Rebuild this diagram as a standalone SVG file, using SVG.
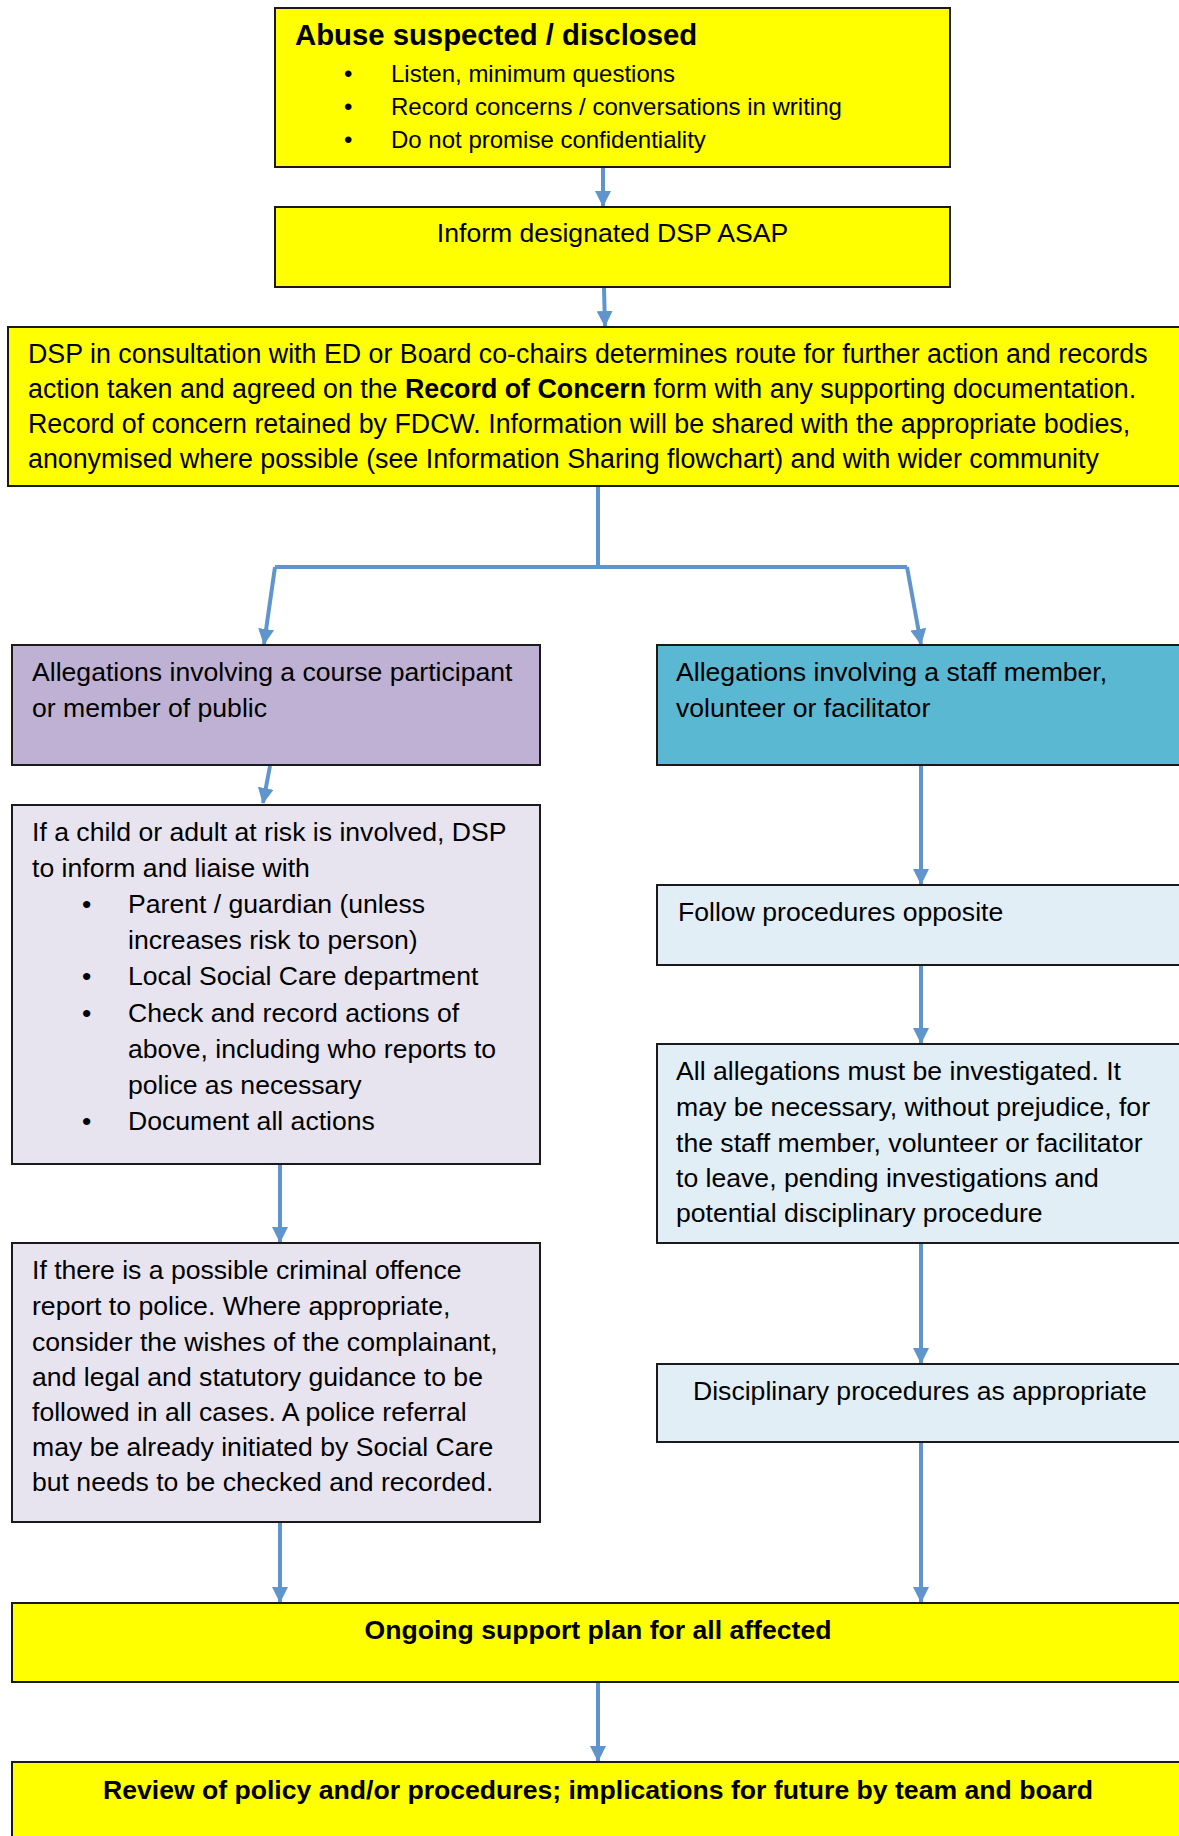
<svg xmlns="http://www.w3.org/2000/svg" width="1179" height="1836" viewBox="0 0 1179 1836">
<style>
  .box { stroke: #1a1a1a; stroke-width: 2; }
  .yellow { fill: #FFFF00; }
  .purple { fill: #BFB1D3; }
  .teal { fill: #5BB8D2; }
  .lpurple { fill: #E8E4EF; }
  .lblue { fill: #E1EEF6; }
  text { font-family: "Liberation Sans", Arial, sans-serif; fill: #000; }
  .t { font-size: 26.6px; }
  .w { font-size: 26.8px; }
  .s { font-size: 24px; }
  .b { font-weight: bold; }
  .conn { stroke: #5F95CC; stroke-width: 4; fill: none; }
</style>
<defs>
  <marker id="ah" markerUnits="userSpaceOnUse" viewBox="0 0 16 16" refX="15" refY="8" markerWidth="16" markerHeight="16" orient="auto">
    <path d="M0,0 L16,8 L0,16 Z" fill="#5F95CC"/>
  </marker>
</defs>

<g id="connectors">
  <line class="conn" x1="603" y1="168" x2="603" y2="206" marker-end="url(#ah)"/>
  <line class="conn" x1="604" y1="288" x2="605" y2="326" marker-end="url(#ah)"/>
  <polyline class="conn" points="598,487 598,567"/>
  <polyline class="conn" points="275,567 907,567"/>
  <line class="conn" x1="275" y1="567" x2="264" y2="644" marker-end="url(#ah)"/>
  <line class="conn" x1="907" y1="567" x2="921" y2="644" marker-end="url(#ah)"/>
  <line class="conn" x1="270" y1="766" x2="263" y2="803" marker-end="url(#ah)"/>
  <line class="conn" x1="921" y1="766" x2="921" y2="884" marker-end="url(#ah)"/>
  <line class="conn" x1="921" y1="966" x2="921" y2="1043" marker-end="url(#ah)"/>
  <line class="conn" x1="921" y1="1244" x2="921" y2="1363" marker-end="url(#ah)"/>
  <line class="conn" x1="921" y1="1443" x2="921" y2="1602" marker-end="url(#ah)"/>
  <line class="conn" x1="280" y1="1165" x2="280" y2="1242" marker-end="url(#ah)"/>
  <line class="conn" x1="280" y1="1523" x2="280" y2="1602" marker-end="url(#ah)"/>
  <line class="conn" x1="598" y1="1683" x2="598" y2="1761" marker-end="url(#ah)"/>
</g>

<g id="abuse-suspected">
  <rect class="box yellow" x="275" y="8" width="675" height="159"/>
  <text class="b" x="295" y="45" font-size="29.3">Abuse suspected / disclosed</text>
  <text class="s" x="344" y="82">•</text>
  <text class="s" x="391" y="82">Listen, minimum questions</text>
  <text class="s" x="344" y="115">•</text>
  <text class="s" x="391" y="115">Record concerns / conversations in writing</text>
  <text class="s" x="344" y="148">•</text>
  <text class="s" x="391" y="148">Do not promise confidentiality</text>
</g>

<g id="inform-dsp">
  <rect class="box yellow" x="275" y="207" width="675" height="80"/>
  <text class="t" x="612.5" y="242" text-anchor="middle">Inform designated DSP ASAP</text>
</g>

<g id="dsp-consultation">
  <rect class="box yellow" x="8" y="327" width="1185" height="159"/>
  <text class="w" x="28" y="363">DSP in consultation with ED or Board co-chairs determines route for further action and records</text>
  <text class="w" x="28" y="398">action taken and agreed on the <tspan class="b">Record of Concern</tspan> form with any supporting documentation.</text>
  <text class="w" x="28" y="433">Record of concern retained by FDCW. Information will be shared with the appropriate bodies,</text>
  <text class="w" x="28" y="468">anonymised where possible (see Information Sharing flowchart) and with wider community</text>
</g>

<g id="allegations-participant">
  <rect class="box purple" x="12" y="645" width="528" height="120"/>
  <text class="t" x="32" y="681">Allegations involving a course participant</text>
  <text class="t" x="32" y="717">or member of public</text>
</g>

<g id="allegations-staff">
  <rect class="box teal" x="657" y="645" width="540" height="120"/>
  <text class="t" x="676" y="681">Allegations involving a staff member,</text>
  <text class="t" x="676" y="717">volunteer or facilitator</text>
</g>

<g id="child-adult-at-risk">
  <rect class="box lpurple" x="12" y="805" width="528" height="359"/>
  <text class="t" x="32" y="841">If a child or adult at risk is involved, DSP</text>
  <text class="t" x="32" y="877">to inform and liaise with</text>
  <text class="t" x="82" y="913">•</text>
  <text class="t" x="128" y="913">Parent / guardian (unless</text>
  <text class="t" x="128" y="949">increases risk to person)</text>
  <text class="t" x="82" y="985">•</text>
  <text class="t" x="128" y="985">Local Social Care department</text>
  <text class="t" x="82" y="1022">•</text>
  <text class="t" x="128" y="1022">Check and record actions of</text>
  <text class="t" x="128" y="1058">above, including who reports to</text>
  <text class="t" x="128" y="1094">police as necessary</text>
  <text class="t" x="82" y="1130">•</text>
  <text class="t" x="128" y="1130">Document all actions</text>
</g>

<g id="criminal-offence">
  <rect class="box lpurple" x="12" y="1243" width="528" height="279"/>
  <text class="t" x="32" y="1279">If there is a possible criminal offence</text>
  <text class="t" x="32" y="1315">report to police. Where appropriate,</text>
  <text class="t" x="32" y="1351">consider the wishes of the complainant,</text>
  <text class="t" x="32" y="1386">and legal and statutory guidance to be</text>
  <text class="t" x="32" y="1421">followed in all cases. A police referral</text>
  <text class="t" x="32" y="1456">may be already initiated by Social Care</text>
  <text class="t" x="32" y="1491">but needs to be checked and recorded.</text>
</g>

<g id="follow-procedures">
  <rect class="box lblue" x="657" y="885" width="540" height="80"/>
  <text class="t" x="678" y="921">Follow procedures opposite</text>
</g>

<g id="investigated">
  <rect class="box lblue" x="657" y="1044" width="540" height="199"/>
  <text class="t" x="676" y="1080">All allegations must be investigated. It</text>
  <text class="t" x="676" y="1116">may be necessary, without prejudice, for</text>
  <text class="t" x="676" y="1152">the staff member, volunteer or facilitator</text>
  <text class="t" x="676" y="1187">to leave, pending investigations and</text>
  <text class="t" x="676" y="1222">potential disciplinary procedure</text>
</g>

<g id="disciplinary">
  <rect class="box lblue" x="657" y="1364" width="540" height="78"/>
  <text class="t" x="693" y="1400">Disciplinary procedures as appropriate</text>
</g>

<g id="ongoing-support">
  <rect class="box yellow" x="12" y="1603" width="1185" height="79"/>
  <text class="t b" x="598" y="1639" text-anchor="middle">Ongoing support plan for all affected</text>
</g>

<g id="review">
  <rect class="box yellow" x="12" y="1762" width="1185" height="100"/>
  <text class="t b" x="598" y="1799" text-anchor="middle">Review of policy and/or procedures; implications for future by team and board</text>
</g>
</svg>
